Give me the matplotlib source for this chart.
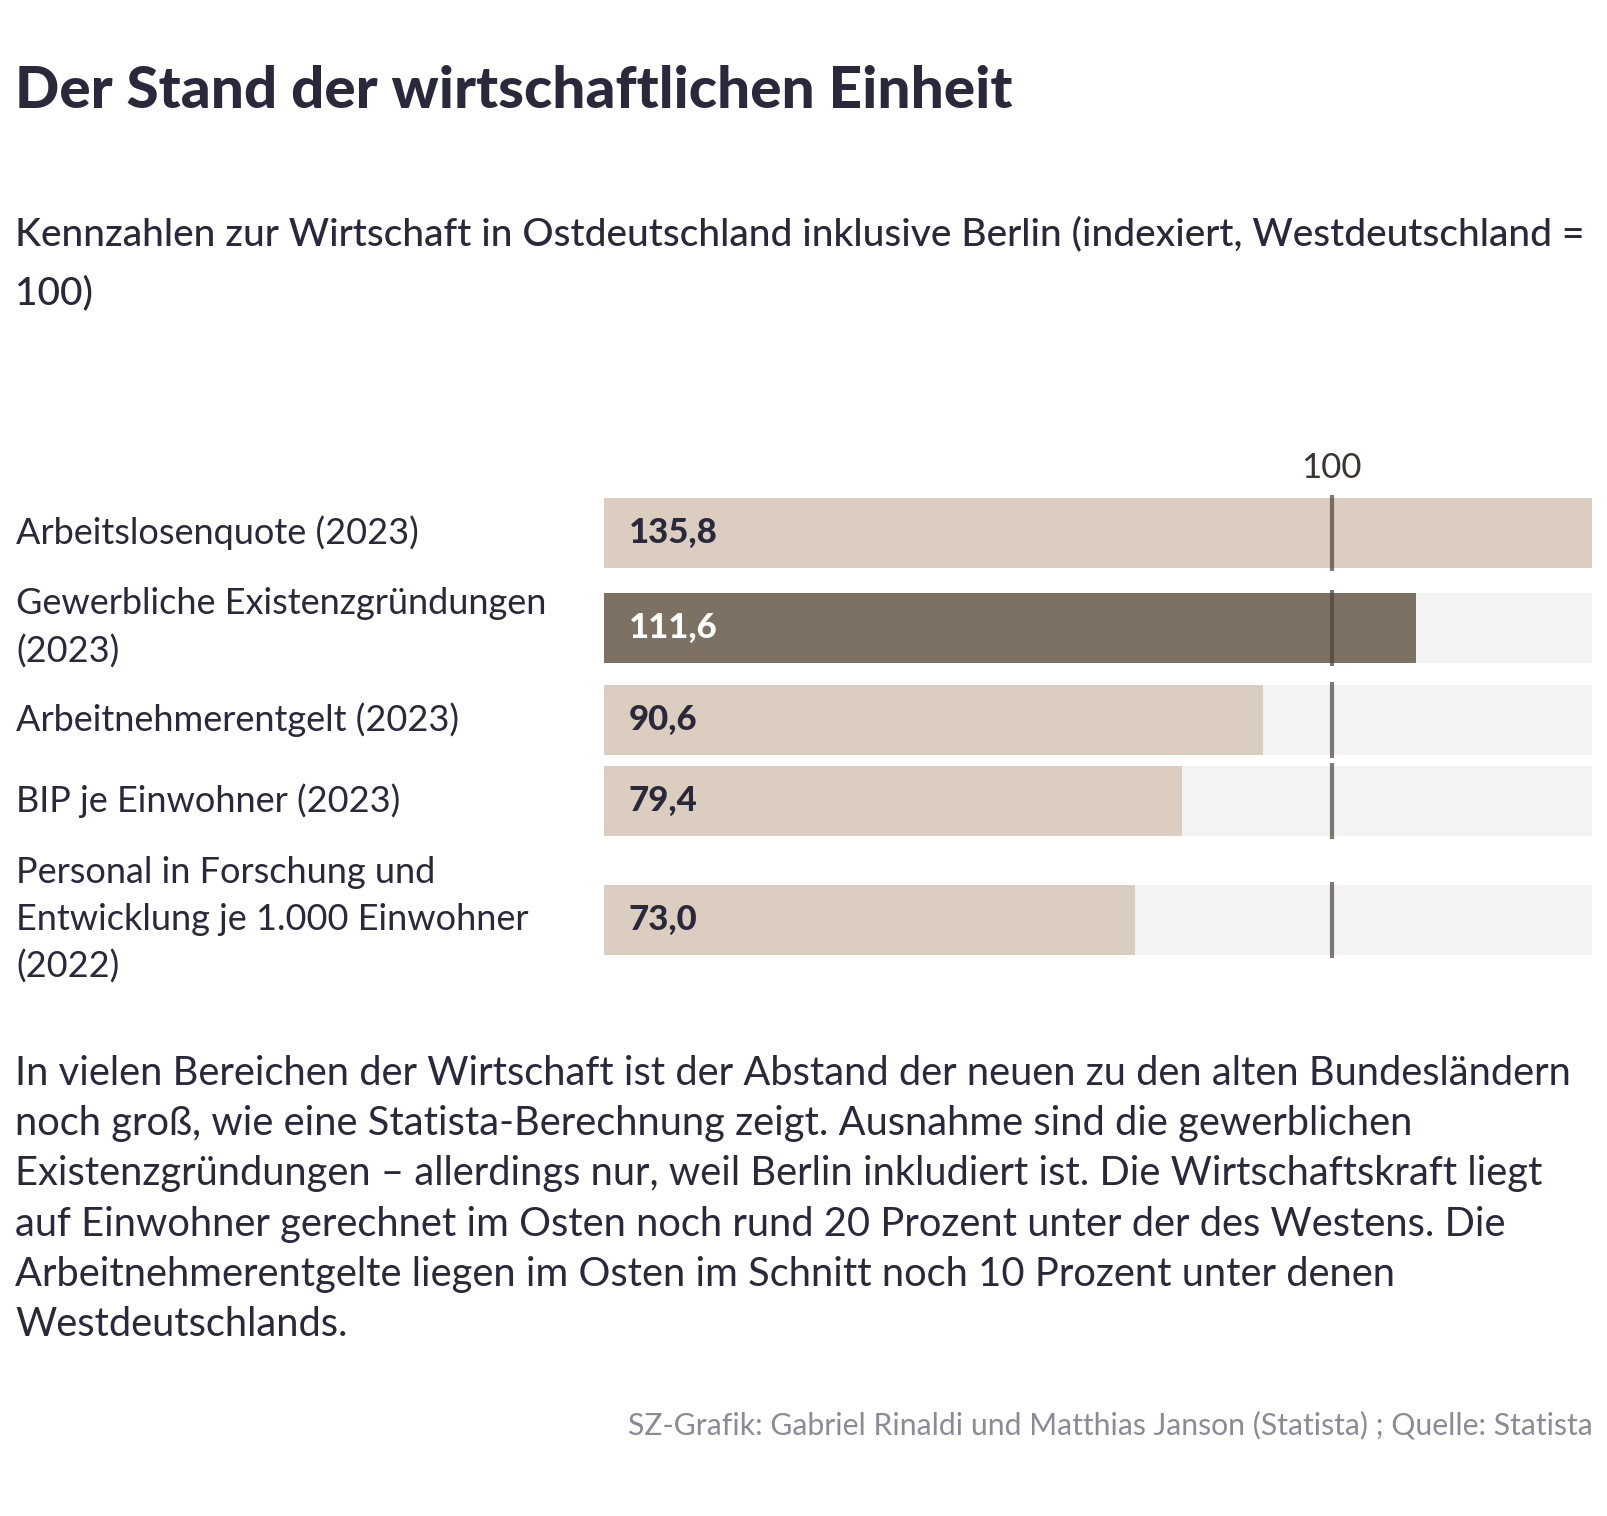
import matplotlib
matplotlib.use("Agg")
import matplotlib.pyplot as plt

# data
categories = [
    "Arbeitslosenquote (2023)",
    "Gewerbliche Existenzgründungen\n(2023)",
    "Arbeitnehmerentgelt (2023)",
    "BIP je Einwohner (2023)",
    "Personal in Forschung und\nEntwicklung je 1.000 Einwohner\n(2022)",
]
values = [135.8, 111.6, 90.6, 79.4, 73.0]
value_labels = ["135,8", "111,6", "90,6", "79,4", "73,0"]
highlight = [False, True, False, False, False]
reference_value = 100

title = "Der Stand der wirtschaftlichen Einheit"
subtitle = "Kennzahlen zur Wirtschaft in Ostdeutschland inklusive Berlin (indexiert, Westdeutschland =\n100)"
body = ("In vielen Bereichen der Wirtschaft ist der Abstand der neuen zu den alten Bundesländern\n"
        "noch groß, wie eine Statista-Berechnung zeigt. Ausnahme sind die gewerblichen\n"
        "Existenzgründungen – allerdings nur, weil Berlin inkludiert ist. Die Wirtschaftskraft liegt\n"
        "auf Einwohner gerechnet im Osten noch rund 20 Prozent unter der des Westens. Die\n"
        "Arbeitnehmerentgelte liegen im Osten im Schnitt noch 10 Prozent unter denen\n"
        "Westdeutschlands.")
footer = "SZ-Grafik: Gabriel Rinaldi und Matthias Janson (Statista) ; Quelle: Statista"

# layout (figure pixels)
W, H = 1608, 1516
row_y = [533, 628, 720, 801, 920]
bar_h = 70
ax_left, ax_right = 604, 1592
ax_top, ax_bottom = 440, 975

text_col = "#29293b"
light_bar = "#dccdc1"
dark_bar = "#7d7164"
track = "#f3f3f3"

plt.rcParams["font.family"] = ["Lato", "DejaVu Sans"]

fig = plt.figure(figsize=(W / 100, H / 100), dpi=100)
fig.patch.set_facecolor("white")


def fx(px):
    return px / W


def fy(py):
    return 1 - py / H


ax = fig.add_axes([fx(ax_left), fy(ax_bottom), (ax_right - ax_left) / W, (ax_bottom - ax_top) / H])
ax.set_xlim(0, max(values))
ax.set_ylim(ax_bottom, ax_top)
ax.axis("off")

for y, v, lab, hi in zip(row_y, values, value_labels, highlight):
    ax.barh(y, max(values), height=bar_h, color=track, lw=0)
    ax.barh(y, v, height=bar_h, color=dark_bar if hi else light_bar, lw=0)
    ax.text(max(values) * 0.025, y, lab, ha="left", va="center", fontsize=25,
            fontweight="black", color="white" if hi else text_col)
    ax.plot([reference_value, reference_value], [y - bar_h / 2 - 3, y + bar_h / 2 + 3],
            color="#4d4238", alpha=0.7, lw=3, solid_capstyle="butt")

ax.text(reference_value, 468, str(reference_value), ha="center", va="center",
        fontsize=25, color="#3a3530")

# category labels
for y, cat in zip(row_y, categories):
    fig.text(fx(16), fy(y), cat, ha="left", va="center", fontsize=26,
             color=text_col, linespacing=1.5)

fig.text(fx(15), fy(92), title, ha="left", va="center", fontsize=42,
         fontweight="black", color=text_col)
fig.text(fx(15), fy(264), subtitle, ha="left", va="center", fontsize=28,
         fontweight="medium", color=text_col, linespacing=1.8)
fig.text(fx(15), fy(1199), body, ha="left", va="center", fontsize=28.7,
         color=text_col, linespacing=1.44)
fig.text(fx(1593), fy(1425), footer, ha="right", va="center", fontsize=21.7,
         color="#8b8b96")

fig.savefig("out.png", dpi=100, facecolor="white")
